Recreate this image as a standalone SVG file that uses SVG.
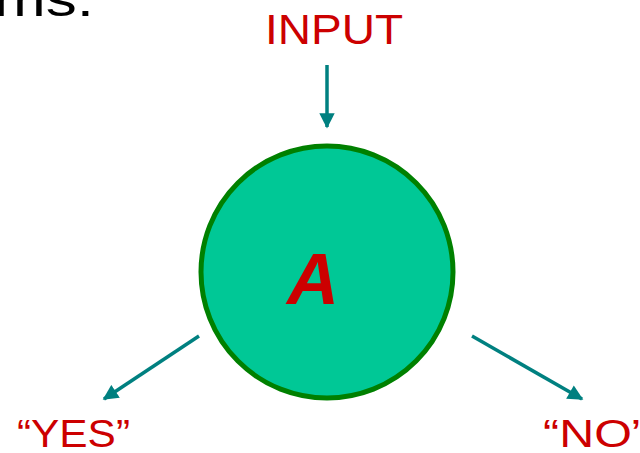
<svg xmlns="http://www.w3.org/2000/svg" width="640" height="453" viewBox="0 0 640 453">
<style>
.lbl{font-family:"Comic Sans MS","Liberation Sans","DejaVu Sans",sans-serif;fill:#CC0000}
.conn{stroke:#008080;stroke-width:3.5;fill:none}
</style>
<defs>
<marker id="ah" viewBox="0 0 10 10" refX="9" refY="5" markerWidth="4.6" markerHeight="4.4" markerUnits="strokeWidth" orient="auto">
<path d="M0,0 L10,5 L0,10 z" fill="#008080"/>
</marker>
</defs>
<rect width="640" height="453" fill="#FFFFFF"/>
<text x="-6" y="16" font-family="Comic Sans MS, Liberation Sans, sans-serif" font-size="48" fill="#000000" textLength="100" lengthAdjust="spacingAndGlyphs">ms:</text>
<g id="input">
<text class="lbl" x="265" y="44" font-size="42" textLength="138" lengthAdjust="spacingAndGlyphs">INPUT</text>
</g>
<g id="nodeA">
<circle cx="327" cy="272" r="126" fill="#00C896" stroke="#008000" stroke-width="5"/>
<text class="lbl" x="313" y="304" font-size="72" font-weight="bold" font-style="italic" text-anchor="middle">A</text>
</g>
<g id="yes">
<text class="lbl" x="17" y="447" font-size="38" textLength="113" lengthAdjust="spacingAndGlyphs">“YES”</text>
</g>
<g id="no">
<text class="lbl" x="543" y="447" font-size="38" textLength="105" lengthAdjust="spacingAndGlyphs">“NO”</text>
</g>
<g id="connectors">
<line class="conn" x1="327" y1="65" x2="327" y2="127" marker-end="url(#ah)"/>
<line class="conn" x1="199" y1="336" x2="104" y2="399" marker-end="url(#ah)"/>
<line class="conn" x1="472" y1="336" x2="582" y2="399" marker-end="url(#ah)"/>
</g>
</svg>
